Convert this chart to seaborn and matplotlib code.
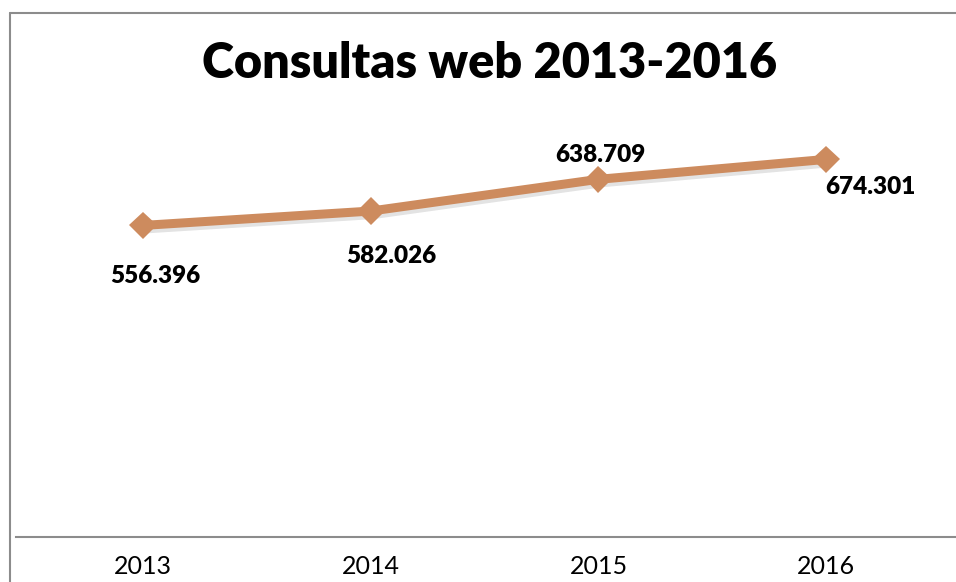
import matplotlib
matplotlib.use("Agg")
import matplotlib.pyplot as plt
import matplotlib.patheffects as pe
from matplotlib.lines import Line2D
import seaborn as sns
import pandas as pd

# data
years = ["2013", "2014", "2015", "2016"]
consultas = [556396, 582026, 638709, 674301]
labels = ["556.396", "582.026", "638.709", "674.301"]
# where each data label sits relative to its point (pixels)
label_offsets = [(12, -51), (20, -45), (2, 24), (44, -28)]

df = pd.DataFrame({"year": years, "consultas": consultas})

sns.set_theme(style="white")
plt.rcParams["font.family"] = ["Lato", "DejaVu Sans"]

line_color = "#CD8B5E"

fig = plt.figure(figsize=(9.56, 5.82), dpi=100)
ax = fig.add_axes([16 / 956, 45 / 582, 1 - 16 / 956, (537 - 89) / 582])

sns.lineplot(data=df, x="year", y="consultas", ax=ax, color=line_color,
             linewidth=6.5, marker="D", markersize=14, markeredgewidth=0,
             sort=False,
             path_effects=[pe.SimpleLineShadow(offset=(2, -2.5), alpha=0.12),
                           pe.Normal()])

for i, (val, txt) in enumerate(zip(consultas, labels)):
    ax.annotate(txt, (i, val), xytext=label_offsets[i], textcoords="offset pixels",
                ha="center", va="center", fontsize=17.5, fontweight="heavy",
                color="black")

ax.set_xlim(-0.558, 3.57)
ax.set_ylim(0, 800000)
ax.set_xlabel("")
ax.set_ylabel("")
ax.set_yticks([])
ax.tick_params(axis="x", length=0, pad=13, labelsize=18, colors="black")

for side in ["top", "right", "left"]:
    ax.spines[side].set_visible(False)
ax.spines["bottom"].set_color("#8c8c8c")
ax.spines["bottom"].set_linewidth(1.5)

fig.text(490 / 956, 1 - 63 / 582, "Consultas web 2013-2016", ha="center",
         va="center", fontsize=35, fontweight="heavy", color="black")

# slide frame on left and top
fig.add_artist(Line2D([10 / 956, 10 / 956], [0, 1 - 13 / 582],
                      transform=fig.transFigure, color="#8c8c8c", linewidth=1.5))
fig.add_artist(Line2D([10 / 956, 1], [1 - 13 / 582, 1 - 13 / 582],
                      transform=fig.transFigure, color="#8c8c8c", linewidth=1.5))

fig.savefig("out.png", dpi=100)
